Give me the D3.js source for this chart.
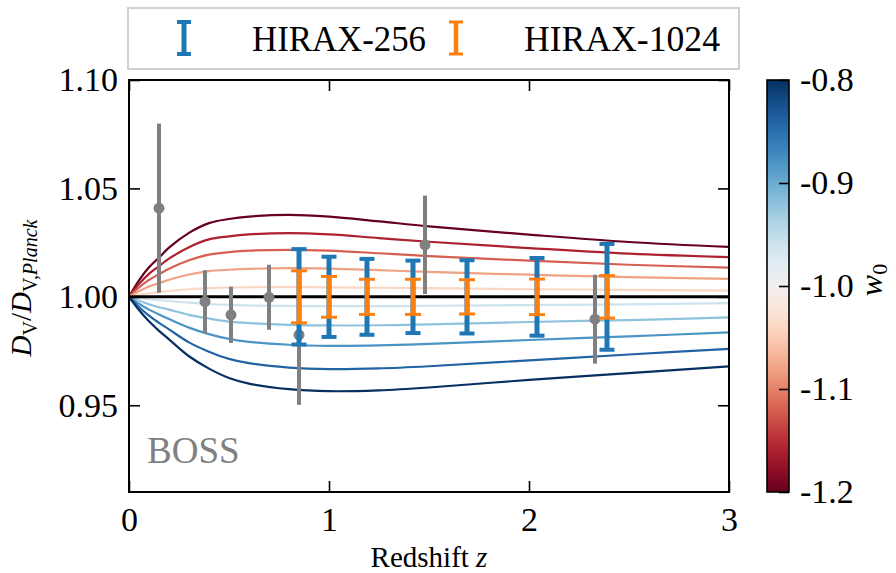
<!DOCTYPE html>
<html>
<head>
<meta charset="utf-8">
<script src="https://cdn.jsdelivr.net/npm/d3@7"></script>
</head>
<body style="margin:0">
<svg id="chart" width="896" height="573" font-family="Liberation Serif"></svg>
<script>
// redshift samples for the model curves
var zGrid = [0, 0.05, 0.1, 0.15, 0.2, 0.3, 0.4, 0.5, 0.6, 0.8, 1.0, 1.25, 1.5, 2.0, 2.5, 3.0];

// w0 of each model curve (w0 = -1 is the black reference line)
var w0Values = [-1.2, -1.16, -1.12, -1.08, -1.04, -0.96, -0.92, -0.88, -0.84, -0.80];

// D_V / D_V,Planck, one array per w0
var ratioW120 = [1, 1.0076, 1.0136, 1.0181, 1.0227, 1.0295, 1.0340, 1.0359, 1.0370, 1.0378, 1.0370, 1.0348, 1.0325, 1.0287, 1.0253, 1.0230];
var ratioW116 = [1, 1.0059, 1.0106, 1.0141, 1.0176, 1.0229, 1.0265, 1.0279, 1.0288, 1.0294, 1.0288, 1.0271, 1.0254, 1.0225, 1.0199, 1.0183];
var ratioW112 = [1, 1.0043, 1.0078, 1.0104, 1.0130, 1.0169, 1.0195, 1.0206, 1.0213, 1.0217, 1.0213, 1.0201, 1.0188, 1.0167, 1.0148, 1.0135];
var ratioW108 = [1, 1.0026, 1.0048, 1.0063, 1.0079, 1.0103, 1.0119, 1.0125, 1.0129, 1.0132, 1.0130, 1.0123, 1.0115, 1.0102, 1.0091, 1.0083];
var ratioW104 = [1, 1.0009, 1.0016, 1.0022, 1.0027, 1.0035, 1.0040, 1.0043, 1.0044, 1.0045, 1.0044, 1.0042, 1.0040, 1.0035, 1.0032, 1.0029];
var ratioW096 = [1, 0.9994, 0.9989, 0.9985, 0.9981, 0.9973, 0.9967, 0.9963, 0.9960, 0.9958, 0.9957, 0.9957, 0.9959, 0.9962, 0.9965, 0.9971];
var ratioW092 = [1, 0.9982, 0.9966, 0.9952, 0.9941, 0.9917, 0.9900, 0.9886, 0.9879, 0.9871, 0.9868, 0.9869, 0.9873, 0.9884, 0.9893, 0.9905];
var ratioW088 = [1, 0.9968, 0.9941, 0.9919, 0.9898, 0.9858, 0.9828, 0.9806, 0.9792, 0.9779, 0.9774, 0.9776, 0.9783, 0.9801, 0.9818, 0.9836];
var ratioW084 = [1, 0.9953, 0.9913, 0.9880, 0.9850, 0.9790, 0.9747, 0.9714, 0.9694, 0.9674, 0.9667, 0.9670, 0.9680, 0.9707, 0.9734, 0.9760];
var ratioW080 = [1, 0.9939, 0.9887, 0.9843, 0.9804, 0.9726, 0.9669, 0.9626, 0.9600, 0.9574, 0.9565, 0.9569, 0.9582, 0.9617, 0.9648, 0.9679];
var ratioLCDM = [1, 1, 1, 1, 1, 1, 1, 1, 1, 1, 1, 1, 1, 1, 1, 1];

// BOSS / eBOSS measurements
var bossZ = [0.15, 0.38, 0.51, 0.70, 0.85, 1.48, 2.33];
var bossRatio = [1.0409, 0.9978, 0.9917, 0.9998, 0.9825, 1.0240, 0.9897];
var bossErr = [0.039, 0.0145, 0.013, 0.015, 0.0323, 0.0227, 0.0205];

// HIRAX forecasts
var hiraxZ = [0.85, 1.0, 1.19, 1.42, 1.69, 2.04, 2.39];
var hiraxRatio = [1, 1, 1, 1, 1, 1, 1];
var hirax256Err = [0.022, 0.0185, 0.0175, 0.0167, 0.0169, 0.0179, 0.0244];
var hirax1024Err = [0.012, 0.0094, 0.0081, 0.0081, 0.0079, 0.0082, 0.0098];

var xTicks = [0, 1, 2, 3];
var yTicks = [0.95, 1.00, 1.05, 1.10];
var cbTicks = [-1.2, -1.1, -1.0, -0.9, -0.8];

var curveRatios = [ratioW120, ratioW116, ratioW112, ratioW108, ratioW104,
                   ratioW096, ratioW092, ratioW088, ratioW084, ratioW080];

var serif = "Liberation Serif";
var svg = d3.select("#chart");
var plot = { left: 129, right: 729, top: 80, bottom: 492 };

var x = d3.scaleLinear().domain([0, 3]).range([plot.left, plot.right]);
var y = d3.scaleLinear().domain([0.91, 1.10]).range([plot.bottom, plot.top]);
var color = d3.scaleSequential(d3.interpolateRdBu).domain([-1.2, -0.8]);

svg.append("defs").append("clipPath").attr("id", "clip")
  .append("rect")
  .attr("x", plot.left).attr("y", plot.top)
  .attr("width", plot.right - plot.left).attr("height", plot.bottom - plot.top);

var line = d3.line()
  .x(function (d, i) { return x(zGrid[i]); })
  .y(function (d) { return y(d); })
  .curve(d3.curveCatmullRom.alpha(0.5));

var g = svg.append("g").attr("clip-path", "url(#clip)");

// model curves
g.selectAll("path.model")
  .data(curveRatios).enter()
  .append("path")
  .attr("class", "model")
  .attr("d", line)
  .attr("fill", "none")
  .attr("stroke", function (d, i) { return color(w0Values[i]); })
  .attr("stroke-width", 2.2);

g.append("path")
  .attr("d", line(ratioLCDM))
  .attr("fill", "none")
  .attr("stroke", "#000")
  .attr("stroke-width", 3);

//draw a set of error bars
function errorBars(zs, vals, errs, col, lw, capW, capLw) {
  var eg = g.append("g");
  zs.forEach(function (z, i) {
    var cx = x(z), top = y(vals[i] + errs[i]), bot = y(vals[i] - errs[i]);
    eg.append("line").attr("x1", cx).attr("x2", cx).attr("y1", top).attr("y2", bot)
      .attr("stroke", col).attr("stroke-width", lw);
    if (capW > 0) {
      [top, bot].forEach(function (yy) {
        eg.append("line").attr("x1", cx - capW / 2).attr("x2", cx + capW / 2)
          .attr("y1", yy).attr("y2", yy)
          .attr("stroke", col).attr("stroke-width", capLw);
      });
    }
  });
  return eg;
}

var bossG = errorBars(bossZ, bossRatio, bossErr, "#808080", 4, 0, 0);
bossG.selectAll("circle")
  .data(bossZ).enter()
  .append("circle")
  .attr("cx", function (d) { return x(d); })
  .attr("cy", function (d, i) { return y(bossRatio[i]); })
  .attr("r", 5.5)
  .attr("fill", "#808080");

errorBars(hiraxZ, hiraxRatio, hirax256Err, "#1f77b4", 5, 15, 4);
errorBars(hiraxZ, hiraxRatio, hirax1024Err, "#ff7f0e", 4.5, 16, 3);

// BOSS label
svg.append("text")
  .attr("x", 147).attr("y", 463)
  .attr("font-family", serif)
  .attr("font-size", 37)
  .attr("fill", "#808080")
  .text("BOSS");

// axes, ticks pointing inward on all four sides
function styleAxis(sel) {
  sel.attr("font-family", serif).attr("font-size", 34);
  sel.select(".domain").remove();
  sel.selectAll(".tick line").attr("stroke", "#000").attr("stroke-width", 1.6);
  sel.selectAll(".tick text").attr("font-family", serif).attr("fill", "#000");
}

svg.append("g").attr("transform", "translate(0," + plot.bottom + ")")
  .call(d3.axisBottom(x).tickValues(xTicks).tickSizeInner(-11).tickSizeOuter(0)
    .tickPadding(15).tickFormat(d3.format("d")))
  .call(styleAxis);
svg.append("g").attr("transform", "translate(0," + plot.top + ")")
  .call(d3.axisTop(x).tickValues(xTicks).tickSizeInner(-11).tickSizeOuter(0).tickFormat(""))
  .call(styleAxis);
svg.append("g").attr("transform", "translate(" + plot.left + ",0)")
  .call(d3.axisLeft(y).tickValues(yTicks).tickSizeInner(-11).tickSizeOuter(0)
    .tickPadding(11).tickFormat(d3.format(".2f")))
  .call(styleAxis);
svg.append("g").attr("transform", "translate(" + plot.right + ",0)")
  .call(d3.axisRight(y).tickValues(yTicks).tickSizeInner(-11).tickSizeOuter(0).tickFormat(""))
  .call(styleAxis);

svg.append("rect")
  .attr("x", plot.left).attr("y", plot.top)
  .attr("width", plot.right - plot.left).attr("height", plot.bottom - plot.top)
  .attr("fill", "none").attr("stroke", "#000").attr("stroke-width", 2);

// axis titles
var xt = svg.append("text")
  .attr("x", x(1.5)).attr("y", 567)
  .attr("text-anchor", "middle")
  .attr("font-family", serif)
  .attr("font-size", 29);
xt.append("tspan").text("Redshift ");
xt.append("tspan").attr("font-style", "italic").text("z");

var yt = svg.append("text")
  .attr("transform", "translate(31,288) rotate(-90)")
  .attr("text-anchor", "middle")
  .attr("font-family", serif)
  .attr("font-size", 29);
yt.append("tspan").attr("font-style", "italic").text("D");
yt.append("tspan").attr("dy", 6).attr("font-size", 20).text("V");
yt.append("tspan").attr("dy", -6).text("/");
yt.append("tspan").attr("font-style", "italic").text("D");
yt.append("tspan").attr("dy", 6).attr("font-size", 20).text("V,");
yt.append("tspan").attr("font-size", 20).attr("font-style", "italic").text("Planck");

// colorbar
var cb = { x: 767, w: 22 };
var cbY = d3.scaleLinear().domain([-1.2, -0.8]).range([plot.bottom, plot.top]);
var grad = svg.select("defs").append("linearGradient")
  .attr("id", "cbgrad").attr("x1", 0).attr("x2", 0).attr("y1", 1).attr("y2", 0);
d3.range(0, 21).forEach(function (i) {
  grad.append("stop")
    .attr("offset", i / 20)
    .attr("stop-color", color(-1.2 + 0.4 * i / 20));
});
svg.append("rect")
  .attr("x", cb.x).attr("y", plot.top)
  .attr("width", cb.w).attr("height", plot.bottom - plot.top)
  .attr("fill", "url(#cbgrad)")
  .attr("stroke", "#000").attr("stroke-width", 1.6);
svg.append("g").attr("transform", "translate(" + (cb.x + cb.w) + ",0)")
  .call(d3.axisRight(cbY).tickValues(cbTicks).tickSizeInner(-10).tickSizeOuter(0)
    .tickPadding(11).tickFormat(function (d) { return d.toFixed(1); }))
  .call(styleAxis);

var wt = svg.append("text")
  .attr("transform", "translate(882,280) rotate(-90)")
  .attr("text-anchor", "middle")
  .attr("font-family", serif)
  .attr("font-size", 32);
wt.append("tspan").attr("font-style", "italic").text("w");
wt.append("tspan").attr("dy", 5).attr("font-size", 22).text("0");

// legend
var leg = svg.append("g");
leg.append("rect")
  .attr("x", 128).attr("y", 8).attr("width", 611).attr("height", 61)
  .attr("fill", "#fff").attr("stroke", "#d0d0d0").attr("stroke-width", 2);
var legItems = [
  { label: "HIRAX-256", col: "#1f77b4", sx: 184, tx: 252, tw: 174, lw: 5, capLw: 4 },
  { label: "HIRAX-1024", col: "#ff7f0e", sx: 456, tx: 524, tw: 196, lw: 4.5, capLw: 3 }
];
legItems.forEach(function (d) {
  leg.append("line").attr("x1", d.sx).attr("x2", d.sx).attr("y1", 22).attr("y2", 54)
    .attr("stroke", d.col).attr("stroke-width", d.lw);
  [22, 54].forEach(function (yy) {
    leg.append("line").attr("x1", d.sx - 7).attr("x2", d.sx + 7).attr("y1", yy).attr("y2", yy)
      .attr("stroke", d.col).attr("stroke-width", d.capLw);
  });
  leg.append("text").attr("x", d.tx).attr("y", 51)
    .attr("textLength", d.tw).attr("lengthAdjust", "spacingAndGlyphs")
    .attr("font-family", serif)
    .attr("font-size", 36).text(d.label);
});
</script>
</body>
</html>
